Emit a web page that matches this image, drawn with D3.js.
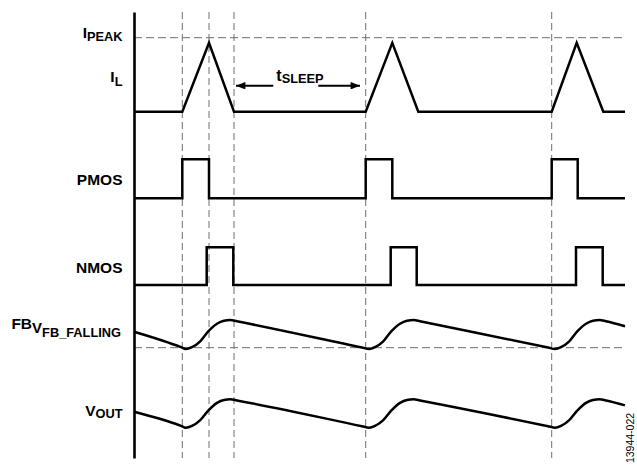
<!DOCTYPE html>
<html>
<head>
<meta charset="utf-8">
<script src="https://cdn.jsdelivr.net/npm/d3@7"></script>
<style>
  html, body { margin: 0; padding: 0; background: #fff; }
  svg { display: block; }
  text { font-family: "Liberation Sans", Arial, sans-serif; fill: #000; }
</style>
</head>
<body>
<svg id="chart" width="637" height="465"></svg>
<script>
// ---------- data (time in arbitrary units) ----------
const timeDomain = [0, 491];
const markerTimes = [48.3, 75, 100, 231.7, 417.7];      // dashed vertical markers

const ilTime  = [0, 48.3, 75, 100, 231.7, 258.3, 284.3, 417.7, 442.7, 469.3, 491];
const ilValue = [0, 0, 0.93, 0, 0, 0.93, 0, 0, 0.93, 0, 0];
const iPeakLevel = 1;

const pmosTime  = [0, 48.3, 75, 231.7, 258.3, 417.7, 443.7, 491];
const pmosState = [0, 1, 0, 1, 0, 1, 0, 0];

const nmosTime  = [0, 72.7, 99.3, 256.7, 282.7, 442, 468.7, 491];
const nmosState = [0, 1, 0, 1, 0, 1, 0, 0];

const fbTime  = [0, 47, 51.8, 58, 66, 74, 83, 90, 96.3, 103, 228, 235.2, 241, 249, 257, 266, 273, 279.7, 286, 414, 421.2, 427, 435, 443, 452, 459, 465.7, 472, 491];
const fbValue = [16, 0.6, -1.3, 0.5, 6, 16, 24, 27, 27.7, 26.4, 0.2, -1.3, 0.5, 6, 16, 24, 27, 27.7, 26.4, 0.2, -1.3, 0.5, 6, 16, 24, 27, 27.7, 26.4, 21.5];
const fbThreshold = 0;

const voutTime  = [0, 47, 51.8, 58, 66, 74, 83, 90, 96.3, 103, 228, 235.2, 241, 249, 257, 266, 273, 279.7, 286, 414, 421.2, 427, 435, 443, 452, 459, 465.7, 472, 491];
const voutValue = [14.7, 0.6, -1.3, 0.5, 6, 15.5, 23.5, 26.5, 27.1, 25.9, 0.2, -1.3, 0.5, 6, 15.5, 23.5, 26.5, 27.1, 25.9, 0.2, -1.3, 0.5, 6, 15.5, 23.5, 26.5, 27.1, 25.9, 21];

const sleepSpan = [100, 231.7];

const rowLabels = [
  { key: "ipeak", parts: ["I", "PEAK"] },
  { key: "il",    parts: ["I", "L"] },
  { key: "pmos",  parts: ["PMOS"] },
  { key: "nmos",  parts: ["NMOS"] },
  { key: "fb",    parts: ["FB", "V", "FB_FALLING"] },
  { key: "vout",  parts: ["V", "OUT"] }
];
const sleepLabel = ["t", "SLEEP"];
const figureId = "13944-022";

// ---------- drawing ----------
const svg = d3.select("#chart");
const x = d3.scaleLinear().domain(timeDomain).range([134, 625]);

const yFrame = d3.scaleLinear().domain([0, 1]).range([458, 12]);
const yIL   = d3.scaleLinear().domain([0, iPeakLevel]).range([111.7, 37.7]);
const yPMOS = d3.scaleLinear().domain([0, 1]).range([198.3, 159.3]);
const yNMOS = d3.scaleLinear().domain([0, 1]).range([285, 247.3]);
const yFB   = d3.scaleLinear().domain([0, 30]).range([347.7, 317.7]);
const yVOUT = d3.scaleLinear().domain([0, 30]).range([426.4, 396.4]);

const dashColor = "#6e6e6e";

// dashed vertical markers
svg.append("g").selectAll("line").data(markerTimes).join("line")
  .attr("x1", d => x(d)).attr("x2", d => x(d))
  .attr("y1", yFrame(1)).attr("y2", yFrame(0))
  .attr("stroke", dashColor).attr("stroke-width", 1)
  .attr("stroke-dasharray", "7,4");

// dashed horizontal references
svg.append("line")
  .attr("x1", x(0)).attr("x2", x(timeDomain[1]))
  .attr("y1", yIL(iPeakLevel)).attr("y2", yIL(iPeakLevel))
  .attr("stroke", dashColor).attr("stroke-width", 1).attr("stroke-dasharray", "8,4");
svg.append("line")
  .attr("x1", x(0)).attr("x2", x(timeDomain[1]))
  .attr("y1", yFB(fbThreshold)).attr("y2", yFB(fbThreshold))
  .attr("stroke", dashColor).attr("stroke-width", 1).attr("stroke-dasharray", "8,4");

// vertical axis line
const axisG = svg.append("g").attr("transform", `translate(${x(0)},0)`)
  .call(d3.axisLeft(yFrame).tickValues([]).tickSizeOuter(0));
axisG.select(".domain").attr("stroke", "#000").attr("stroke-width", 2.6);

function trace(times, values, yScale, curve) {
  const pts = times.map((t, i) => [t, values[i]]);
  svg.append("path")
    .datum(pts)
    .attr("fill", "none")
    .attr("stroke", "#000")
    .attr("stroke-width", 2.5)
    .attr("stroke-linejoin", "miter")
    .attr("d", d3.line().x(d => x(d[0])).y(d => yScale(d[1])).curve(curve));
}

trace(ilTime, ilValue, yIL, d3.curveLinear);
trace(pmosTime, pmosState, yPMOS, d3.curveStepAfter);
trace(nmosTime, nmosState, yNMOS, d3.curveStepAfter);
trace(fbTime, fbValue, yFB, d3.curveMonotoneX);
trace(voutTime, voutValue, yVOUT, d3.curveMonotoneX);

// row labels
const labelX = 122.5;
const mainSize = 15.5, subSize = 12.8;
function label(parts, baseline, opts) {
  const t = svg.append("text")
    .attr("x", opts.x !== undefined ? opts.x : labelX)
    .attr("y", baseline)
    .attr("text-anchor", opts.anchor || "end")
    .attr("font-weight", "bold");
  parts.forEach((p, i) => {
    const ts = t.append("tspan").text(p)
      .attr("font-size", (opts.sizes && opts.sizes[i]) || (i === 0 ? mainSize : subSize));
    if (i > 0) ts.attr("dy", opts.dys[i - 1]);
  });
  return t;
}
const L = Object.fromEntries(rowLabels.map(d => [d.key, d.parts]));
label(L.ipeak, 38.3, { dys: [2.5] });
label(L.il, 81.7, { dys: [4] });
label(L.pmos, 185, {});
label(L.nmos, 272.7, {});
label(L.fb, 329.3, { dys: [4, 4], sizes: [mainSize, 15, subSize] , x: 121});
label(L.vout, 415.7, { dys: [2.7] });

// t_SLEEP label and arrows
label(sleepLabel, 80.7, { x: (x(sleepSpan[0]) + x(sleepSpan[1])) / 2 - 23.5, anchor: "start", dys: [2], sizes: [16, subSize] });

const arrowY = 85.7;
const defs = svg.append("defs");
defs.append("marker").attr("id", "ah")
  .attr("viewBox", "0 0 10 8").attr("refX", 10).attr("refY", 4)
  .attr("markerWidth", 10).attr("markerHeight", 7.5)
  .attr("markerUnits", "userSpaceOnUse").attr("orient", "auto")
  .append("path").attr("d", "M0,0 L10,4 L0,8 Z").attr("fill", "#000");

svg.append("line")
  .attr("x1", x(sleepSpan[0]) + 39.3).attr("x2", x(sleepSpan[0]) + 2)
  .attr("y1", arrowY).attr("y2", arrowY)
  .attr("stroke", "#000").attr("stroke-width", 2).attr("marker-end", "url(#ah)");
svg.append("line")
  .attr("x1", x(sleepSpan[1]) - 47.4).attr("x2", x(sleepSpan[1]) - 5.7)
  .attr("y1", arrowY).attr("y2", arrowY)
  .attr("stroke", "#000").attr("stroke-width", 2).attr("marker-end", "url(#ah)");

// figure id, rotated
svg.append("text")
  .attr("transform", "translate(634,438) rotate(-90)")
  .attr("text-anchor", "middle")
  .attr("font-size", 10.5)
  .text(figureId);
</script>
</body>
</html>
